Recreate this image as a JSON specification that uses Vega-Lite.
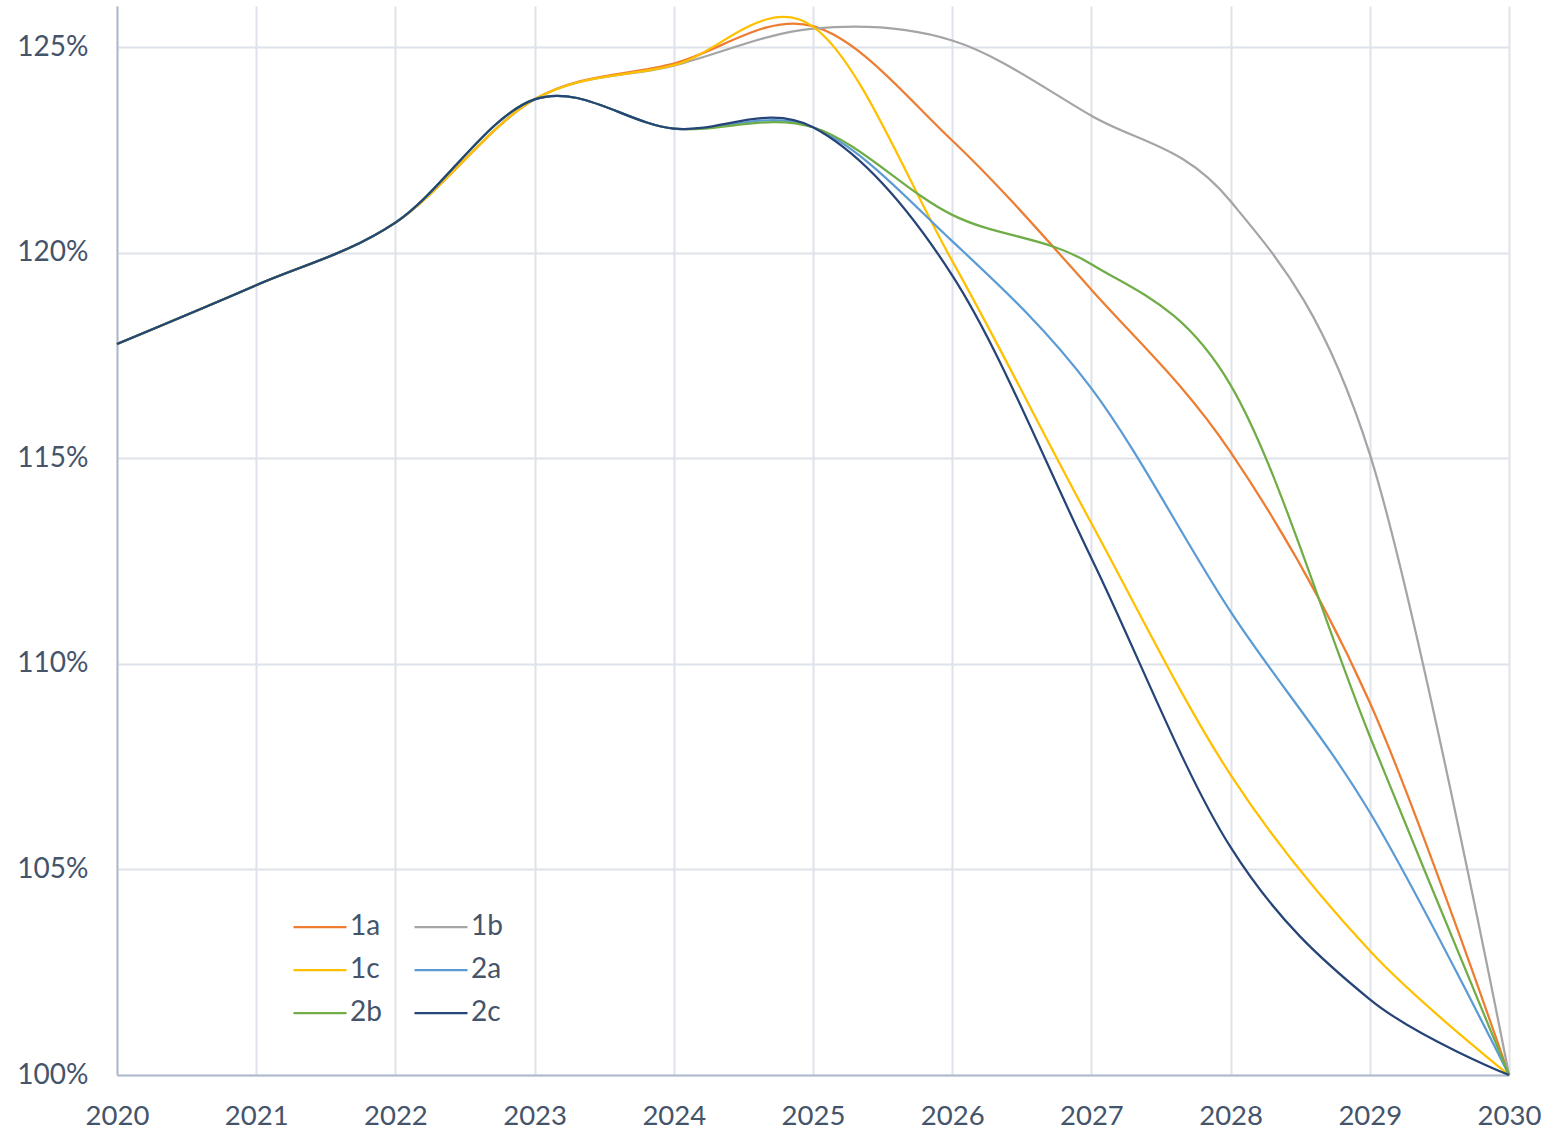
{
  "$schema": "https://vega.github.io/schema/vega-lite/v6.json",
  "width": 1392,
  "height": 1069,
  "autosize": {"type": "none"},
  "padding": {"left": 117, "top": 6, "right": 35, "bottom": 56},
  "background": "white",
  "config": {
    "view": {"stroke": null},
    "font": "Lato",
    "axis": {
      "labelFont": "Lato",
      "labelFontSize": 28,
      "labelColor": "#44546A",
      "gridColor": "#DEE2EA",
      "gridWidth": 2,
      "domainColor": "#AFBBCC",
      "domainWidth": 2,
      "ticks": false,
      "title": null
    }
  },
  "datasets": {
    "series": [
      {"year": 2020, "scenario": "1a", "value": 1.1778},
      {"year": 2021, "scenario": "1a", "value": 1.1921},
      {"year": 2022, "scenario": "1a", "value": 1.2073},
      {"year": 2023, "scenario": "1a", "value": 1.2373},
      {"year": 2024, "scenario": "1a", "value": 1.2460},
      {"year": 2025, "scenario": "1a", "value": 1.2551},
      {"year": 2026, "scenario": "1a", "value": 1.2273},
      {"year": 2027, "scenario": "1a", "value": 1.1910},
      {"year": 2028, "scenario": "1a", "value": 1.1515},
      {"year": 2029, "scenario": "1a", "value": 1.0906},
      {"year": 2030, "scenario": "1a", "value": 1.0000},
      {"year": 2020, "scenario": "1b", "value": 1.1778},
      {"year": 2021, "scenario": "1b", "value": 1.1921},
      {"year": 2022, "scenario": "1b", "value": 1.2073},
      {"year": 2023, "scenario": "1b", "value": 1.2373},
      {"year": 2024, "scenario": "1b", "value": 1.2455},
      {"year": 2025, "scenario": "1b", "value": 1.2545},
      {"year": 2026, "scenario": "1b", "value": 1.2516},
      {"year": 2027, "scenario": "1b", "value": 1.2333},
      {"year": 2028, "scenario": "1b", "value": 1.2125},
      {"year": 2029, "scenario": "1b", "value": 1.1510},
      {"year": 2030, "scenario": "1b", "value": 1.0000},
      {"year": 2020, "scenario": "1c", "value": 1.1778},
      {"year": 2021, "scenario": "1c", "value": 1.1921},
      {"year": 2022, "scenario": "1c", "value": 1.2073},
      {"year": 2023, "scenario": "1c", "value": 1.2373},
      {"year": 2024, "scenario": "1c", "value": 1.2456},
      {"year": 2025, "scenario": "1c", "value": 1.2550},
      {"year": 2026, "scenario": "1c", "value": 1.1980},
      {"year": 2027, "scenario": "1c", "value": 1.1342},
      {"year": 2028, "scenario": "1c", "value": 1.0730},
      {"year": 2029, "scenario": "1c", "value": 1.0302},
      {"year": 2030, "scenario": "1c", "value": 1.0000},
      {"year": 2020, "scenario": "2a", "value": 1.1778},
      {"year": 2021, "scenario": "2a", "value": 1.1921},
      {"year": 2022, "scenario": "2a", "value": 1.2073},
      {"year": 2023, "scenario": "2a", "value": 1.2373},
      {"year": 2024, "scenario": "2a", "value": 1.2302},
      {"year": 2025, "scenario": "2a", "value": 1.2305},
      {"year": 2026, "scenario": "2a", "value": 1.2028},
      {"year": 2027, "scenario": "2a", "value": 1.1670},
      {"year": 2028, "scenario": "2a", "value": 1.1127},
      {"year": 2029, "scenario": "2a", "value": 1.0639},
      {"year": 2030, "scenario": "2a", "value": 1.0000},
      {"year": 2020, "scenario": "2b", "value": 1.1778},
      {"year": 2021, "scenario": "2b", "value": 1.1921},
      {"year": 2022, "scenario": "2b", "value": 1.2073},
      {"year": 2023, "scenario": "2b", "value": 1.2373},
      {"year": 2024, "scenario": "2b", "value": 1.2302},
      {"year": 2025, "scenario": "2b", "value": 1.2305},
      {"year": 2026, "scenario": "2b", "value": 1.2092},
      {"year": 2027, "scenario": "2b", "value": 1.1972},
      {"year": 2028, "scenario": "2b", "value": 1.1678},
      {"year": 2029, "scenario": "2b", "value": 1.0824},
      {"year": 2030, "scenario": "2b", "value": 1.0000},
      {"year": 2020, "scenario": "2c", "value": 1.1778},
      {"year": 2021, "scenario": "2c", "value": 1.1921},
      {"year": 2022, "scenario": "2c", "value": 1.2073},
      {"year": 2023, "scenario": "2c", "value": 1.2373},
      {"year": 2024, "scenario": "2c", "value": 1.2302},
      {"year": 2025, "scenario": "2c", "value": 1.2305},
      {"year": 2026, "scenario": "2c", "value": 1.1945},
      {"year": 2027, "scenario": "2c", "value": 1.1257},
      {"year": 2028, "scenario": "2c", "value": 1.0554},
      {"year": 2029, "scenario": "2c", "value": 1.0184},
      {"year": 2030, "scenario": "2c", "value": 1.0000}
    ]
  },
  "data": {"name": "series"},
  "mark": {"type": "line", "interpolate": "cardinal", "tension": 0, "strokeWidth": 2.25},
  "encoding": {
    "x": {
      "field": "year",
      "type": "quantitative",
      "scale": {"domain": [2020, 2030], "nice": false, "zero": false},
      "axis": {
        "values": [2020, 2021, 2022, 2023, 2024, 2025, 2026, 2027, 2028, 2029, 2030],
        "format": "d",
        "labelPadding": 27,
        "labelFontSize": 27.5,
        "labelFlush": false,
        "labelOverlap": false
      }
    },
    "y": {
      "field": "value",
      "type": "quantitative",
      "scale": {"domain": [1.0, 1.26], "nice": false, "zero": false},
      "axis": {
        "values": [1.0, 1.05, 1.1, 1.15, 1.2, 1.25],
        "format": ".0%",
        "labelPadding": 29,
        "labelOverlap": false
      }
    },
    "color": {
      "field": "scenario",
      "type": "nominal",
      "scale": {
        "domain": ["1a", "1b", "1c", "2a", "2b", "2c"],
        "range": ["#ED7D31", "#A5A5A5", "#FFC000", "#5B9BD5", "#70AD47", "#264478"]
      },
      "legend": {
        "title": null,
        "orient": "none",
        "direction": "horizontal",
        "legendX": 175,
        "legendY": 893,
        "columns": 2,
        "symbolType": "stroke",
        "symbolSize": 2809,
        "symbolStrokeWidth": 2.25,
        "labelFont": "Lato",
        "labelFontSize": 28,
        "labelColor": "#44546A",
        "labelOffset": 2,
        "columnPadding": 28,
        "rowPadding": 1
      }
    }
  }
}
